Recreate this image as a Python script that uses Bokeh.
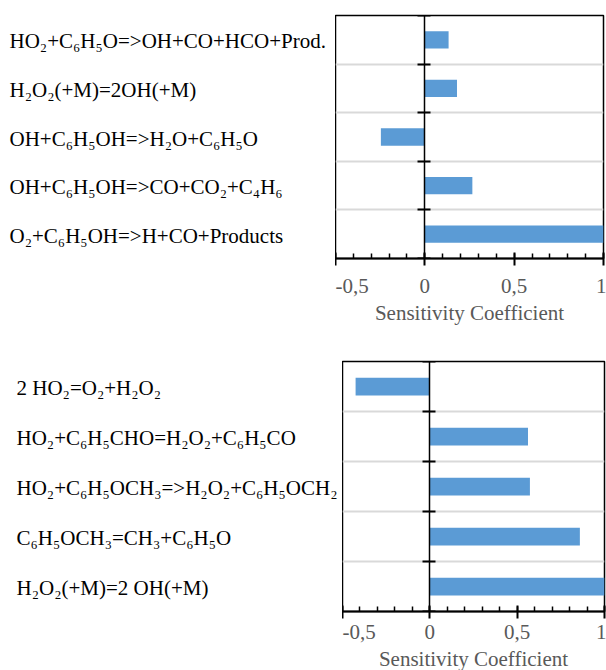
from bokeh.plotting import figure
from bokeh.layouts import column, row
from bokeh.models import Range1d, SingleIntervalTicker, FixedTicker, ColumnDataSource
from bokeh.core.properties import value
from bokeh.embed import file_html
from bokeh.resources import INLINE

# ---- data ----
TOP_REACTIONS = [
    "HO₂+C₆H₅O=>OH+CO+HCO+Prod.",
    "H₂O₂(+M)=2OH(+M)",
    "OH+C₆H₅OH=>H₂O+C₆H₅O",
    "OH+C₆H₅OH=>CO+CO₂+C₄H₆",
    "O₂+C₆H₅OH=>H+CO+Products",
]
TOP_SENS = [0.133, 0.18, -0.246, 0.266, 1.0]

BOTTOM_REACTIONS = [
    "2 HO₂=O₂+H₂O₂",
    "HO₂+C₆H₅CHO=H₂O₂+C₆H₅CO",
    "HO₂+C₆H₅OCH₃=>H₂O₂+C₆H₅OCH₂",
    "C₆H₅OCH₃=CH₃+C₆H₅O",
    "H₂O₂(+M)=2 OH(+M)",
]
BOTTOM_SENS = [-0.425, 0.562, 0.573, 0.859, 1.0]

X_TICKS = [-0.5, 0, 0.5, 1]
X_TICK_LABELS = ["-0,5", "0", "0,5", "1"]
X_TITLE = "Sensitivity Coefficient"

BAR_COLOR = "#5B9BD5"
GRID_COLOR = "#D9D9D9"
GRAY = "#595959"
FONT = "Liberation Serif"


def panel(reactions, sens, label_w, frame_w, b_top, frame_h, b_bottom, b_right,
          text_off, tick_standoff, title_standoff):
    n = len(reactions)
    ycent = [n - i - 0.5 for i in range(n)]
    src = ColumnDataSource(dict(y=ycent, v=sens, label=reactions, x0=[0] * n))
    yr = Range1d(0, n)

    lab = figure(frame_width=label_w, frame_height=frame_h,
                 min_border_top=b_top, min_border_bottom=b_bottom,
                 min_border_left=0, min_border_right=0,
                 x_range=Range1d(0, 1), y_range=yr,
                 x_axis_location=None, y_axis_location=None,
                 toolbar_location=None, output_backend="svg")
    lab.outline_line_color = None
    lab.grid.visible = False
    lab.text(x="x0", y="y", text="label", source=src,
             text_font=value(FONT), text_font_size="21px", text_color="black",
             text_baseline="middle", text_align="left",
             x_offset=text_off, y_offset=1.5)

    p = figure(frame_width=frame_w, frame_height=frame_h,
               min_border_top=b_top, min_border_bottom=b_bottom,
               min_border_left=0, min_border_right=b_right,
               x_range=Range1d(X_TICKS[0], X_TICKS[-1]), y_range=yr,
               toolbar_location=None, output_backend="svg")
    p.outline_line_color = "black"
    p.outline_line_width = 1.5
    p.xgrid.visible = False
    p.ygrid.ticker = FixedTicker(ticks=list(range(1, n)))
    p.ygrid.grid_line_color = GRID_COLOR
    p.ygrid.grid_line_width = 2

    p.hbar(y="y", left="x0", right="v", height=0.355, source=src,
           fill_color=BAR_COLOR, line_color=None)

    xa = p.xaxis[0]
    xa.ticker = SingleIntervalTicker(interval=0.5, num_minor_ticks=5)
    xa.major_label_overrides = dict(zip(X_TICKS, X_TICK_LABELS))
    xa.axis_line_color = "black"
    xa.axis_line_width = 2
    xa.major_tick_line_color = "black"
    xa.major_tick_line_width = 2
    xa.major_tick_in = 6
    xa.major_tick_out = 7
    xa.minor_tick_line_color = "black"
    xa.minor_tick_line_width = 1.5
    xa.minor_tick_in = 5
    xa.minor_tick_out = 0
    xa.major_label_text_font = FONT
    xa.major_label_text_font_size = "21px"
    xa.major_label_text_color = GRAY
    xa.major_label_standoff = tick_standoff
    xa.axis_label = X_TITLE
    xa.axis_label_text_font = FONT
    xa.axis_label_text_font_size = "21px"
    xa.axis_label_text_font_style = "normal"
    xa.axis_label_text_color = GRAY
    xa.axis_label_standoff = title_standoff

    ya = p.yaxis[0]
    ya.fixed_location = 0
    ya.ticker = FixedTicker(ticks=list(range(0, n + 1)))
    ya.axis_line_color = "black"
    ya.axis_line_width = 1.5
    ya.major_tick_line_color = "black"
    ya.major_tick_line_width = 2
    ya.major_tick_in = 6
    ya.major_tick_out = 7
    ya.minor_tick_line_color = None
    ya.major_label_text_color = None

    return row(lab, p)


top = panel(TOP_REACTIONS, TOP_SENS, 335, 268, 15, 243, 80, 3, 9, 13, 5)
bottom = panel(BOTTOM_REACTIONS, BOTTOM_SENS, 342, 262, 23, 250, 58, 2, 16, 6, 5)

layout = column(top, bottom)
open("out.html", "w").write(file_html(layout, INLINE))
